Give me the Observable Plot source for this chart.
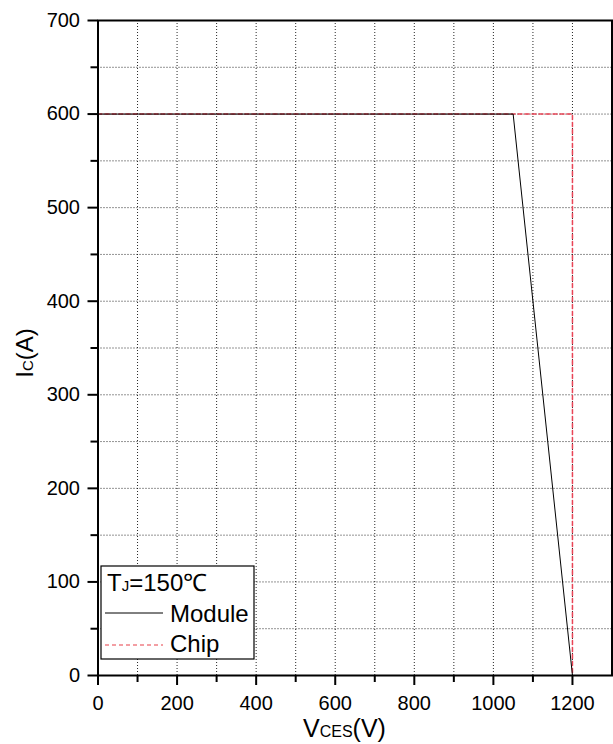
<!DOCTYPE html>
<html><head><meta charset="utf-8">
<script src="https://cdn.jsdelivr.net/npm/d3@7"></script>
<script src="https://cdn.jsdelivr.net/npm/@observablehq/plot@0.6"></script>
<style>body{margin:0;background:#fff} svg{display:block}</style>
</head><body><div id="chart"></div>
<script>
// Safe operating area data
const moduleV = [0, 1050, 1200];
const moduleI = [600, 600, 0];
const chipV = [0, 1200, 1200];
const chipI = [600, 600, 0];
const xTicks = [0, 200, 400, 600, 800, 1000, 1200];
const xMinor = [100, 300, 500, 700, 900, 1100];
const yTicks = [0, 100, 200, 300, 400, 500, 600, 700];
const yMinor = [50, 150, 250, 350, 450, 550, 650];
const xGrid = [100, 200, 300, 400, 500, 600, 700, 800, 900, 1000, 1100, 1200];
const yGrid = [50, 100, 150, 200, 250, 300, 350, 400, 450, 500, 550, 600, 650];

const moduleData = moduleV.map((v, i) => ({v, i: moduleI[i]}));
const chipData = chipV.map((v, i) => ({v, i: chipI[i]}));

const FONT = "'Liberation Sans', Arial, Helvetica, sans-serif";

const svg = Plot.plot({
  width: 613,
  height: 744,
  marginLeft: 97.5,
  marginRight: 1.5,
  marginTop: 20,
  marginBottom: 69,
  style: {fontFamily: FONT, background: "#fff", color: "#000"},
  x: {domain: [0, 1300]},
  y: {domain: [0, 700]},
  marks: [
    Plot.gridX(xGrid, {stroke: "#000", strokeOpacity: 0.85, strokeWidth: 1, strokeDasharray: "1,2"}),
    Plot.gridY(yGrid, {stroke: "#000", strokeOpacity: 0.85, strokeWidth: 1, strokeDasharray: "1,2"}),
    Plot.line(chipData, {x: "v", y: "i", stroke: "#e94456", strokeWidth: 1.5, strokeDasharray: "4,3"}),
    Plot.line(moduleData, {x: "v", y: "i", stroke: "#000", strokeWidth: 1}),
    Plot.frame({stroke: "#000", strokeWidth: 2}),
    Plot.axisX(xTicks, {tickSize: 10, tickPadding: 10, fontSize: 20, label: null, strokeWidth: 2, tickFormat: d => String(d)}),
    Plot.axisX(xMinor, {tickSize: 7, tickFormat: () => "", label: null, strokeWidth: 2}),
    Plot.axisY(yTicks, {tickSize: 10, tickPadding: 8, fontSize: 20, label: null, strokeWidth: 2, tickFormat: d => String(d)}),
    Plot.axisY(yMinor, {tickSize: 7, tickFormat: () => "", label: null, strokeWidth: 2})
  ]
});

const s = d3.select(svg);
// x axis label
const xl = s.append("text").attr("x", 303).attr("y", 737).attr("text-anchor", "start")
  .attr("font-family", FONT).attr("fill", "#000");
xl.append("tspan").attr("font-size", 25).text("V");
xl.append("tspan").attr("font-size", 16).text("CES");
xl.append("tspan").attr("font-size", 25).text("(V)");
// y axis label
const yl = s.append("text").attr("transform", "translate(33,353) rotate(-90)")
  .attr("text-anchor", "middle").attr("font-family", FONT).attr("fill", "#000");
yl.append("tspan").attr("font-size", 24).text("I");
yl.append("tspan").attr("font-size", 15).text("C");
yl.append("tspan").attr("font-size", 24).text("(A)");
// legend
const lg = s.append("g").attr("font-family", FONT).attr("text-anchor", "start");
lg.append("rect").attr("x", 101).attr("y", 566).attr("width", 153).attr("height", 93)
  .attr("fill", "#fff").attr("stroke", "#000").attr("stroke-width", 1.2);
const t1 = lg.append("text").attr("x", 107).attr("y", 591).attr("fill", "#000");
t1.append("tspan").attr("font-size", 24).text("T");
t1.append("tspan").attr("font-size", 15).text("J");
t1.append("tspan").attr("font-size", 24).text("=150℃");
lg.append("line").attr("x1", 105).attr("x2", 163).attr("y1", 613).attr("y2", 613).attr("stroke", "#000").attr("stroke-width", 1);
lg.append("text").attr("x", 170).attr("y", 622).attr("font-size", 24).attr("fill", "#000").text("Module");
lg.append("line").attr("x1", 105).attr("x2", 163).attr("y1", 645).attr("y2", 645).attr("stroke", "#f07f85").attr("stroke-width", 1.5).attr("stroke-dasharray", "4,3");
lg.append("text").attr("x", 170).attr("y", 652).attr("font-size", 24).attr("fill", "#000").text("Chip");

document.getElementById("chart").appendChild(svg);
</script>
</body></html>
